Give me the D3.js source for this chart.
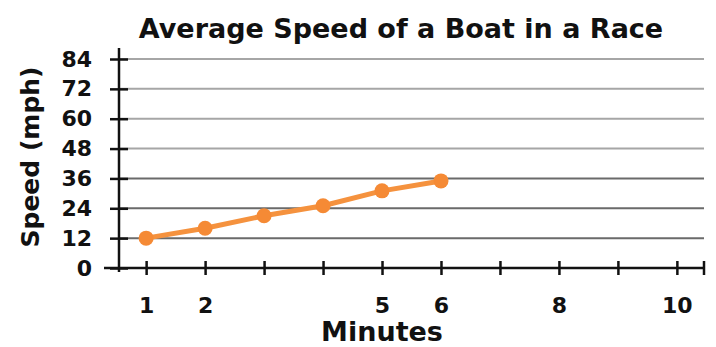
<!DOCTYPE html>
<html>
<head>
<meta charset="utf-8">
<script src="https://cdn.jsdelivr.net/npm/d3@7"></script>
<style>
  html, body { margin: 0; padding: 0; background: #fff; }
  svg { display: block; }
  text { font-family: "DejaVu Sans", sans-serif; font-weight: bold; fill: #111; }
</style>
</head>
<body>
<svg id="chart" width="716" height="347"></svg>
<script>
// Race data: minute mark and average speed
const minutes = [1, 2, 3, 4, 5, 6];
const speeds = [12, 16, 21, 25, 31, 35];

// Axis ticks
const yTickValues = [0, 12, 24, 36, 48, 60, 72, 84];
const xTickValues = [1, 2, 3, 4, 5, 6, 7, 8, 9, 10];
const xTickLabels = ["1", "2", "", "", "5", "6", "", "8", "", "10"];

const titleText = "Average Speed of a Boat in a Race";
const yTitleText = "Speed (mph)";
const xTitleText = "Minutes";

const svg = d3.select("#chart");

const x = d3.scaleLinear().domain([0.54, 10.46]).range([119, 704]);
const y = d3.scaleLinear().domain([0, 84]).range([268, 59]);

// Horizontal grid lines
svg.append("g")
  .selectAll("line")
  .data(yTickValues.filter(d => d > 0))
  .join("line")
  .attr("x1", x.range()[0])
  .attr("x2", x.range()[1])
  .attr("y1", d => y(d))
  .attr("y2", d => y(d))
  .attr("stroke", d => d <= 36 ? "#6a6a6a" : "#a6a6a6")
  .attr("stroke-width", 2);

// Y axis
const yAxis = svg.append("g")
  .attr("transform", `translate(${x.range()[0]},0)`)
  .call(d3.axisLeft(y).tickValues(yTickValues).tickSize(9).tickPadding(18).tickSizeOuter(0));
yAxis.select(".domain").remove();
yAxis.append("line")
  .attr("x1", 0).attr("x2", 0)
  .attr("y1", y(0) + 4).attr("y2", 48)
  .attr("stroke", "#111").attr("stroke-width", 2.5);
yAxis.selectAll(".tick line")
  .attr("x1", 9).attr("x2", -9)
  .attr("stroke", "#111").attr("stroke-width", 2.5);
yAxis.selectAll(".tick text")
  .attr("x", -27)
  .style("font-size", "22px")
  .style("font-family", "'DejaVu Sans', sans-serif")
  .style("font-weight", "bold")
  .attr("fill", "#111");

// X axis
const xAxis = svg.append("g")
  .attr("transform", `translate(0,${y(0)})`)
  .call(d3.axisBottom(x)
    .tickValues(xTickValues)
    .tickFormat((d, i) => xTickLabels[i])
    .tickSize(7)
    .tickPadding(22)
    .tickSizeOuter(0));
xAxis.select(".domain").remove();
xAxis.append("line")
  .attr("x1", 104).attr("x2", x.range()[1])
  .attr("y1", 0).attr("y2", 0)
  .attr("stroke", "#111").attr("stroke-width", 2.5);
xAxis.append("line")
  .attr("x1", x.range()[1]).attr("x2", x.range()[1])
  .attr("y1", -7).attr("y2", 7)
  .attr("stroke", "#111").attr("stroke-width", 2.5);
xAxis.selectAll(".tick line")
  .attr("y1", -7).attr("y2", 7)
  .attr("stroke", "#111").attr("stroke-width", 2.5);
xAxis.selectAll(".tick text")
  .style("font-size", "22px")
  .style("font-family", "'DejaVu Sans', sans-serif")
  .style("font-weight", "bold")
  .attr("fill", "#111");

// Speed line and markers
const line = d3.line()
  .x((d, i) => x(minutes[i]))
  .y(d => y(d));

svg.append("path")
  .datum(speeds)
  .attr("d", line)
  .attr("fill", "none")
  .attr("stroke", "#f5923e")
  .attr("stroke-width", 5)
  .attr("stroke-linejoin", "round");

svg.append("g")
  .selectAll("circle")
  .data(speeds)
  .join("circle")
  .attr("cx", (d, i) => x(minutes[i]))
  .attr("cy", d => y(d))
  .attr("r", 7.5)
  .attr("fill", "#f58a35");

// Titles
svg.append("text")
  .attr("x", 401)
  .attr("y", 38)
  .attr("text-anchor", "middle")
  .style("font-size", "27px")
  .text(titleText);

svg.append("text")
  .attr("transform", "translate(39,157) rotate(-90)")
  .attr("text-anchor", "middle")
  .style("font-size", "25px")
  .text(yTitleText);

svg.append("text")
  .attr("x", 382)
  .attr("y", 341)
  .attr("text-anchor", "middle")
  .style("font-size", "27px")
  .text(xTitleText);
</script>
</body>
</html>
